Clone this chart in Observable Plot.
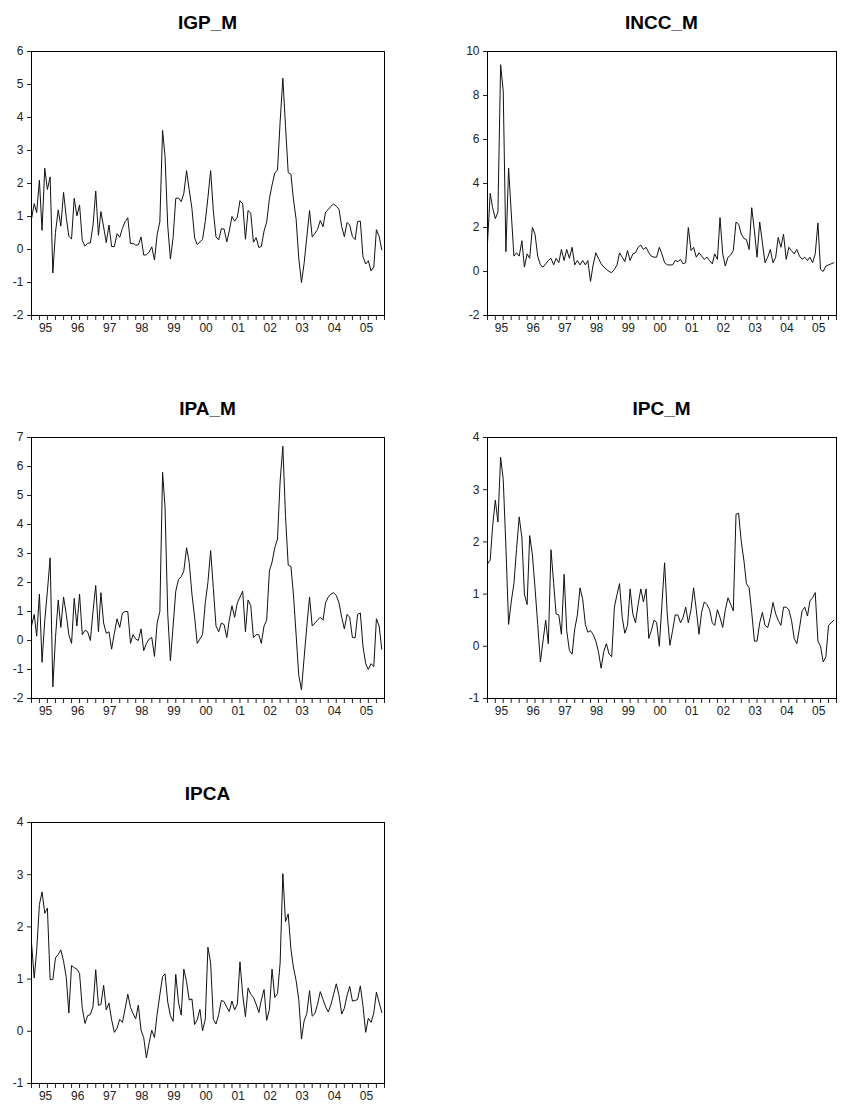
<!DOCTYPE html>
<html>
<head>
<meta charset="utf-8">
<script src="https://cdn.jsdelivr.net/npm/d3@7"></script>
<script src="https://cdn.jsdelivr.net/npm/@observablehq/plot@0.6"></script>
<style>
  html, body { margin: 0; padding: 0; background: #fff; }
  #page { position: relative; width: 845px; height: 1113px; overflow: hidden; font-family: "Liberation Sans", Arial, sans-serif; }
  .title { position: absolute; text-align: center; font-size: 19px; font-weight: bold; line-height: 22px; height: 22px; color: #000; }
  .panel { position: absolute; }
</style>
</head>
<body>
<div id="page"></div>
<script>
// Monthly series, Jan 1995 .. Dec 2005 (% per month)
const yearLabels = ["95","96","97","98","99","00","01","02","03","04","05"];

const igpM = [
  0.92, 1.39, 1.12, 2.10, 0.58, 2.46, 1.82, 2.20, -0.71, 0.52, 1.20, 0.71,
  1.73, 0.97, 0.40, 0.32, 1.55, 1.02, 1.35, 0.28, 0.10, 0.19, 0.20, 0.73,
  1.77, 0.43, 1.15, 0.68, 0.21, 0.74, 0.09, 0.09, 0.48, 0.37, 0.64, 0.84,
  0.96, 0.18, 0.19, 0.13, 0.14, 0.38, -0.17, -0.16, -0.08, 0.08, -0.32, 0.45,
  0.84, 3.61, 2.83, 0.71, -0.29, 0.36, 1.55, 1.56, 1.45, 1.70, 2.39, 1.81,
  1.24, 0.35, 0.15, 0.23, 0.31, 0.85, 1.57, 2.39, 1.16, 0.38, 0.29, 0.63,
  0.62, 0.23, 0.56, 1.00, 0.86, 0.98, 1.48, 1.38, 0.31, 1.18, 1.10, 0.22,
  0.36, 0.06, 0.09, 0.56, 0.83, 1.54, 1.95, 2.32, 2.40, 3.87, 5.19, 3.75,
  2.33, 2.28, 1.53, 0.92, -0.26, -1.00, -0.42, 0.38, 1.18, 0.38, 0.49, 0.61,
  0.88, 0.69, 1.13, 1.21, 1.31, 1.38, 1.31, 1.22, 0.69, 0.39, 0.82, 0.74,
  0.39, 0.30, 0.85, 0.86, -0.22, -0.44, -0.34, -0.65, -0.53, 0.60, 0.40, -0.01
];

const inccM = [
  1.3, 3.55, 2.9, 2.4, 2.7, 9.4, 8.2, 0.9, 4.7, 2.7, 0.7, 0.85,
  0.7, 1.4, 0.2, 0.8, 0.6, 2.0, 1.7, 0.7, 0.3, 0.2, 0.35, 0.5,
  0.6, 0.3, 0.6, 0.4, 1.0, 0.5, 1.0, 0.6, 1.1, 0.3, 0.5, 0.3,
  0.5, 0.3, 0.5, -0.45, 0.3, 0.85, 0.6, 0.35, 0.2, 0.1, 0.0, -0.05,
  0.1, 0.3, 0.85, 0.65, 0.45, 0.95, 0.5, 0.8, 0.85, 1.1, 1.2, 1.0,
  1.1, 0.85, 0.7, 0.65, 0.65, 1.1, 0.8, 0.4, 0.3, 0.3, 0.3, 0.5,
  0.45, 0.55, 0.35, 0.4, 2.0, 0.95, 1.1, 0.65, 0.85, 0.7, 0.55, 0.65,
  0.5, 0.35, 0.8, 0.55, 2.45, 0.8, 0.25, 0.65, 0.75, 0.95, 2.25, 2.15,
  1.7, 1.5, 1.45, 1.0, 2.9, 1.85, 0.65, 2.25, 1.3, 0.4, 0.65, 1.0,
  0.4, 0.65, 1.55, 1.1, 1.7, 0.55, 1.1, 0.95, 0.8, 1.0, 0.7, 0.55,
  0.65, 0.5, 0.65, 0.4, 0.8, 2.2, 0.1, 0.0, 0.25, 0.3, 0.35, 0.4
];

const ipaM = [
  0.5, 0.9, 0.15, 1.6, -0.75, 0.7, 1.7, 2.85, -1.6, 0.1, 1.4, 0.45,
  1.5, 0.9, 0.2, -0.1, 1.45, 0.5, 1.6, 0.2, 0.35, 0.3, 0.0, 1.0,
  1.9, 0.3, 1.65, 0.6, 0.25, 0.3, -0.3, 0.25, 0.75, 0.45, 0.95, 1.0,
  1.0, -0.1, 0.2, 0.05, 0.0, 0.4, -0.35, -0.1, 0.05, 0.1, -0.55, 0.6,
  1.0, 5.8, 4.6, 0.9, -0.7, 0.5, 1.7, 2.1, 2.2, 2.4, 3.2, 2.7,
  1.6, 0.8, -0.1, 0.05, 0.2, 1.3, 2.0, 3.1, 1.8, 0.5, 0.3, 0.6,
  0.55, 0.1, 0.7, 1.2, 0.8, 1.3, 1.5, 1.7, 0.3, 1.4, 1.2, 0.1,
  0.2, 0.2, -0.1, 0.5, 0.7, 2.4, 2.7, 3.2, 3.5, 5.5, 6.7, 4.3,
  2.6, 2.55, 1.6, 0.2, -1.2, -1.7, -0.6, 0.5, 1.5, 0.5, 0.6, 0.7,
  0.8, 0.7, 1.3, 1.5, 1.6, 1.65, 1.55, 1.3, 0.8, 0.4, 0.9, 0.8,
  0.1, 0.1, 0.9, 0.95, -0.2, -0.8, -1.0, -0.8, -0.9, 0.75, 0.5, -0.3
];

const ipcM = [
  1.58, 1.65, 2.3, 2.8, 2.38, 3.62, 3.2, 1.9, 0.42, 0.85, 1.2, 1.85,
  2.48, 2.08, 1.0, 0.8, 2.12, 1.75, 1.12, 0.42, -0.3, 0.1, 0.5, 0.05,
  1.85, 1.2, 0.62, 0.6, 0.23, 1.38, 0.3, -0.08, -0.15, 0.33, 0.6, 1.12,
  0.9, 0.42, 0.27, 0.3, 0.23, 0.1, -0.1, -0.42, -0.1, 0.05, -0.15, -0.2,
  0.75, 1.0, 1.2, 0.55, 0.25, 0.4, 1.1, 0.62, 0.45, 0.8, 1.1, 0.85,
  1.1, 0.15, 0.3, 0.5, 0.46, 0.0, 0.8, 1.6, 0.6, 0.02, 0.3, 0.6,
  0.6, 0.45, 0.55, 0.75, 0.45, 0.7, 1.12, 0.7, 0.23, 0.65, 0.85, 0.8,
  0.7, 0.45, 0.4, 0.7, 0.55, 0.36, 0.7, 0.93, 0.8, 0.68, 2.53, 2.55,
  2.0, 1.63, 1.2, 1.12, 0.65, 0.1, 0.1, 0.45, 0.65, 0.4, 0.36, 0.55,
  0.84, 0.62, 0.5, 0.4, 0.75, 0.75, 0.7, 0.5, 0.15, 0.05, 0.35, 0.68,
  0.75, 0.58, 0.87, 0.93, 1.03, 0.1, 0.0, -0.3, -0.2, 0.4, 0.45, 0.5
];

const ipca = [
  1.70, 1.02, 1.55, 2.43, 2.67, 2.26, 2.36, 0.99, 0.99, 1.41, 1.47, 1.56,
  1.34, 1.03, 0.35, 1.26, 1.22, 1.19, 1.11, 0.44, 0.15, 0.30, 0.32, 0.47,
  1.18, 0.50, 0.51, 0.88, 0.41, 0.54, 0.22, -0.02, 0.06, 0.23, 0.17, 0.43,
  0.71, 0.46, 0.34, 0.24, 0.50, 0.02, -0.12, -0.51, -0.22, 0.02, -0.12, 0.33,
  0.70, 1.05, 1.10, 0.56, 0.30, 0.19, 1.09, 0.56, 0.31, 1.19, 0.95, 0.60,
  0.62, 0.13, 0.22, 0.42, 0.01, 0.23, 1.61, 1.31, 0.23, 0.14, 0.32, 0.59,
  0.57, 0.46, 0.38, 0.58, 0.41, 0.52, 1.33, 0.70, 0.28, 0.83, 0.71, 0.65,
  0.52, 0.36, 0.60, 0.80, 0.21, 0.42, 1.19, 0.65, 0.72, 1.31, 3.02, 2.10,
  2.25, 1.57, 1.23, 0.97, 0.61, -0.15, 0.20, 0.34, 0.78, 0.29, 0.34, 0.52,
  0.76, 0.61, 0.47, 0.37, 0.51, 0.71, 0.91, 0.69, 0.33, 0.44, 0.69, 0.86,
  0.58, 0.59, 0.61, 0.87, 0.49, -0.02, 0.25, 0.17, 0.35, 0.75, 0.55, 0.36
];

const titles = ["IGP_M", "INCC_M", "IPA_M", "IPC_M", "IPCA"];
const seriesList = [igpM, inccM, ipaM, ipcM, ipca];
const yDomains = [[-2, 6], [-2, 10], [-2, 7], [-1, 4], [-1, 4]];
const yTickLists = [d3.range(-2, 7), d3.range(-2, 11, 2), d3.range(-2, 8), d3.range(-1, 5), d3.range(-1, 5)];

// layout (page pixels)
const colLeft = [31, 487], colRight = [384, 836];
const rowTop = [51, 437, 822], rowBottom = [315, 698, 1083];
const mL = 31, mR = 8, mT = 4, mB = 26;

const page = document.getElementById("page");
const start = new Date(Date.UTC(1995, 0, 1));
const end = new Date(Date.UTC(2006, 0, 1));
const quarterTicks = d3.utcMonth.every(3).range(start, new Date(Date.UTC(2006, 0, 2)));
const labelDates = yearLabels.map((_, k) => new Date(Date.UTC(1995 + k, 5, 10)));

seriesList.forEach((vals, p) => {
  const col = p % 2, row = Math.floor(p / 2);
  const pw = colRight[col] - colLeft[col];
  const ph = rowBottom[row] - rowTop[row];
  const data = vals.map((v, i) => ({date: new Date(Date.UTC(1995, i, 1)), v}));

  const chart = Plot.plot({
    width: pw + mL + mR,
    height: ph + mT + mB,
    marginLeft: mL, marginRight: mR, marginTop: mT, marginBottom: mB,
    style: {fontFamily: "Liberation Sans, Arial, sans-serif", fontSize: "12px", color: "#222", background: "white", overflow: "visible"},
    x: {type: "utc", domain: [start, end]},
    y: {domain: yDomains[p]},
    marks: [
      Plot.axisY({ticks: yTickLists[p], tickSize: 4, tickPadding: 4, label: null,
                  tickFormat: (d) => String(d), fontSize: 12}),
      Plot.axisX({ticks: quarterTicks, tickSize: 5, label: null, tickFormat: () => ""}),
      Plot.axisX({ticks: labelDates, tickSize: 0, tickPadding: 8, fontSize: 12, label: null,
                  tickFormat: (d) => yearLabels[d.getUTCFullYear() - 1995]}),
      Plot.line(data, {x: "date", y: "v", stroke: "#111", strokeWidth: 1}),
      Plot.frame({stroke: "#000", strokeWidth: 1})
    ]
  });
  const wrap = document.createElement("div");
  wrap.className = "panel";
  wrap.style.left = (colLeft[col] - mL) + "px";
  wrap.style.top = (rowTop[row] - mT) + "px";
  wrap.appendChild(chart);
  page.appendChild(wrap);

  const t = document.createElement("div");
  t.className = "title";
  t.textContent = titles[p];
  t.style.left = colLeft[col] + "px";
  t.style.width = pw + "px";
  t.style.top = (rowTop[row] - 28 - 11) + "px";
  page.appendChild(t);
});
</script>
</body>
</html>
